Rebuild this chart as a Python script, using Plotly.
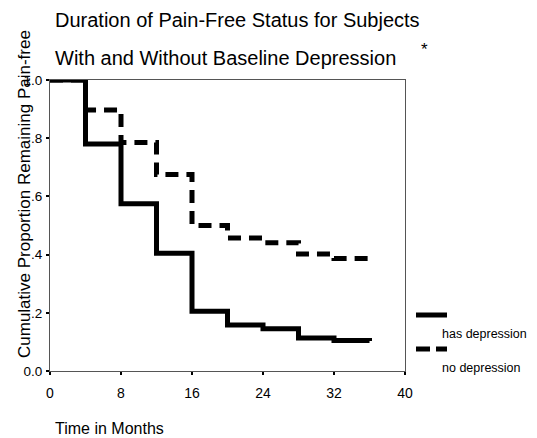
import plotly.graph_objects as go

# Kaplan-Meier step data (months, proportion remaining pain-free)
months_dep = [0, 4, 8, 12, 16, 20, 24, 28, 32, 36]
surv_dep = [1.0, 0.78, 0.575, 0.405, 0.205, 0.158, 0.145, 0.113, 0.105, 0.103]

months_nodep = [0, 4, 8, 12, 16, 20, 24, 28, 32, 36]
surv_nodep = [1.0, 0.897, 0.785, 0.675, 0.50, 0.457, 0.441, 0.402, 0.387, 0.379]

x_ticks = [0, 8, 16, 24, 32, 40]
y_ticks = [0.0, 0.2, 0.4, 0.6, 0.8, 1.0]
y_tick_labels = ["0.0", ".2", ".4", ".6", ".8", "1.0"]

FONT = "Liberation Sans, Arial, sans-serif"

# the page body adds an 8px offset; the figure is sized to compensate
OFF = 8
W, H = 537 - OFF, 438 - OFF
PX0, PX1 = 50, 405      # plot area in screenshot pixels
PY0, PY1 = 80, 371
L, T = PX0 - OFF, PY0 - OFF
R = W - L - (PX1 - PX0)
B = H - T - (PY1 - PY0)

fig = go.Figure()
fig.add_trace(go.Scatter(
    x=months_dep, y=surv_dep, mode="lines", line_shape="hv",
    line=dict(color="black", width=5), name="has depression",
    cliponaxis=False))
fig.add_trace(go.Scatter(
    x=months_nodep, y=surv_nodep, mode="lines", line_shape="hv",
    line=dict(color="black", width=5, dash="13px,8px"), name="no depression",
    cliponaxis=False))

fig.update_layout(
    width=W, height=H,
    margin=dict(l=L, r=R, t=T, b=B, pad=0),
    paper_bgcolor="white", plot_bgcolor="white",
    showlegend=False,
    font=dict(family=FONT, color="black"),
    xaxis=dict(range=[0, 40], tickvals=x_ticks, ticktext=[str(v) for v in x_ticks],
               showgrid=False, zeroline=False, showline=True, linecolor="#555",
               linewidth=1, mirror=True, ticks="outside", ticklen=3, tickwidth=2,
               tickcolor="black", tickfont=dict(size=14), ticklabelstandoff=6,
               fixedrange=True),
    yaxis=dict(range=[0, 1.0], tickvals=y_ticks, ticktext=y_tick_labels,
               showgrid=False, zeroline=False, showline=True, linecolor="#555",
               linewidth=1, mirror=True, ticks="outside", ticklen=3, tickwidth=2,
               tickcolor="black", tickfont=dict(size=13.5), ticklabelstandoff=1,
               fixedrange=True),
)

def px_x(p):
    return (p - PX0) / (PX1 - PX0)

def px_y(p):
    return (PY1 - p) / (PY1 - PY0)

annotations = [
    dict(text="Duration of Pain-Free Status for Subjects", x=53, y=20, size=20, xanchor="left"),
    dict(text="With and Without Baseline Depression", x=53, y=58, size=20, xanchor="left"),
    dict(text="*", x=424, y=50, size=17, xanchor="center"),
    dict(text="Time in Months", x=53, y=428, size=16, xanchor="left"),
    dict(text="has depression", x=440, y=334, size=12.5, xanchor="left"),
    dict(text="no depression", x=440, y=368, size=12.5, xanchor="left"),
]
for a in annotations:
    fig.add_annotation(text=a["text"], xref="paper", yref="paper",
                       x=px_x(a["x"]), y=px_y(a["y"]), xanchor=a["xanchor"],
                       yanchor="middle", showarrow=False,
                       font=dict(family=FONT, size=a["size"], color="black"))

fig.add_annotation(text="Cumulative Proportion Remaining Pain-free", xref="paper", yref="paper",
                   x=px_x(24), y=px_y(194), xanchor="center", yanchor="middle",
                   textangle=-90, showarrow=False,
                   font=dict(family=FONT, size=17, color="black"))

# legend samples
fig.add_shape(type="line", xref="paper", yref="paper",
              x0=px_x(416), x1=px_x(447), y0=px_y(315), y1=px_y(315),
              line=dict(color="black", width=5))
fig.add_shape(type="line", xref="paper", yref="paper",
              x0=px_x(416), x1=px_x(430), y0=px_y(349), y1=px_y(349),
              line=dict(color="black", width=5))
fig.add_shape(type="line", xref="paper", yref="paper",
              x0=px_x(436), x1=px_x(447), y0=px_y(349), y1=px_y(349),
              line=dict(color="black", width=5))

fig.write_html("out.html")
